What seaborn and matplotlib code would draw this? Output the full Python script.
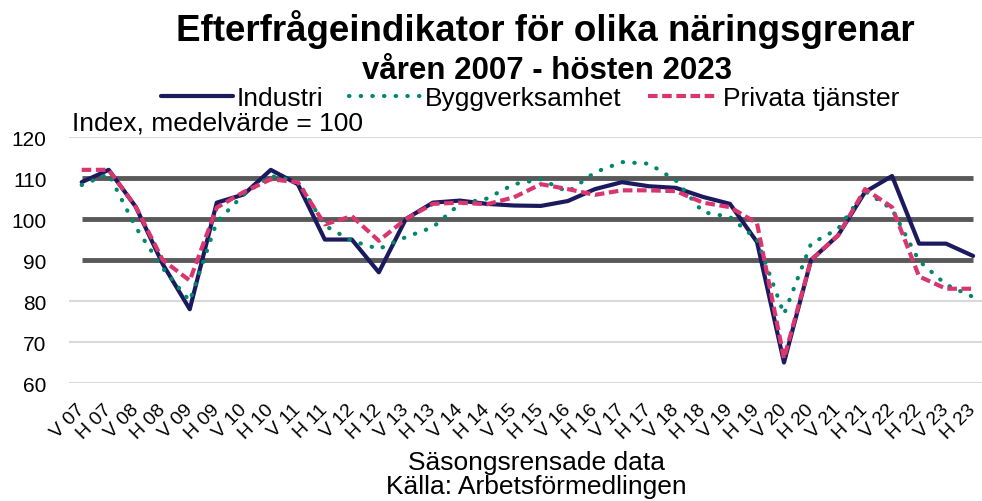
import matplotlib
matplotlib.use("Agg")
import matplotlib.pyplot as plt
import seaborn as sns
import pandas as pd

# Halvår: V = vår, H = höst
periods = [f"{s} {y:02d}" for y in range(7, 24) for s in ("V", "H")]

industri = [109, 112, 103, 89, 78, 104, 106, 112, 108.5, 95, 95, 87,
            100, 104, 104.5, 103.7, 103.3, 103.2, 104.4, 107.3, 109, 108,
            107.6, 105.4, 103.7, 94.4, 65, 90, 96, 106.6, 110.5, 94, 94, 91]
bygg = [108.3, 111, 98, 88, 80, 99.3, 106, 110.5, 109.3, 98.4, 94.7, 92.7,
        95.6, 98, 103.7, 105, 108.5, 109.7, 106.6, 111.4, 113.9, 113.5,
        109.4, 101.7, 100.5, 95, 76.8, 94, 97.6, 106.8, 102.4, 89.8, 84, 81]
privata = [112, 112, 103, 90, 85, 102.8, 106.6, 109.7, 109, 98.7, 100.7, 94.7,
           100, 103.7, 104, 103.6, 105.3, 108.5, 107.3, 105.9, 107, 107,
           106.8, 104, 102.9, 99, 66, 90, 96, 107.3, 102.9, 86, 83, 83]

series_names = ["Industri", "Byggverksamhet", "Privata tjänster"]
colors = ["#1c1a5e", "#00876c", "#d9366f"]

df = pd.DataFrame({"x": range(len(periods)),
                   "Industri": industri,
                   "Byggverksamhet": bygg,
                   "Privata tjänster": privata})
long_df = df.melt(id_vars="x", var_name="serie", value_name="index")

sns.set_theme(style="white")
plt.rcParams["font.family"] = ["Liberation Sans", "DejaVu Sans"]
plt.rcParams["text.color"] = "black"
plt.rcParams["xtick.color"] = "black"
plt.rcParams["ytick.color"] = "black"

fig = plt.figure(figsize=(9.82, 5.02), dpi=100)
ax = fig.add_axes([0.070, 0.235, 0.930, 0.490])

# tunna stödlinjer
for y in [60, 70, 80, 120]:
    ax.axhline(y, color="#d9d9d9", lw=1.5, zorder=0)
# tjocka referenslinjer 90/100/110
ax.hlines([90, 100, 110], 0, len(periods) - 1, color="#595959", lw=3.5, zorder=1)

sns.lineplot(data=long_df, x="x", y="index", hue="serie", style="serie",
             hue_order=series_names, style_order=series_names,
             palette=colors,
             dashes={"Industri": "", "Byggverksamhet": (0.1, 2.7),
                     "Privata tjänster": (2.3, 1.1)},
             lw=3, ax=ax, zorder=3)

ax.set_xlim(-0.48, 33.33)
ax.set_ylim(60, 120)
ax.set_yticks(range(60, 121, 10))
ax.tick_params(axis="y", labelsize=15, length=0, pad=16)
ax.set_xticks(range(len(periods)))
ax.set_xticklabels(periods, rotation=45, ha="right", va="center",
                   rotation_mode="anchor", fontsize=14)
ax.tick_params(axis="x", length=0, pad=17)
ax.set_xlabel("")
ax.set_ylabel("")
sns.despine(ax=ax, left=True, bottom=True)

handles, labels = ax.get_legend_handles_labels()
leg = ax.legend(handles, labels, loc="center", bbox_to_anchor=(0.54, 0.803),
                bbox_transform=fig.transFigure, ncol=3, frameon=False,
                fontsize=19, handlelength=2.7, handletextpad=0.15,
                columnspacing=1.0, borderpad=0, borderaxespad=0)

# rundade prickar, raka streck
for line in ax.get_lines() + leg.get_lines():
    if line.get_color() == colors[1]:
        line.set_dash_capstyle("round")
    else:
        line.set_dash_capstyle("butt")
    line.set_solid_capstyle("round")

fig.text(0.555, 0.918, "Efterfrågeindikator för olika näringsgrenar",
         ha="center", va="baseline", fontsize=26.5, fontweight="bold")
fig.text(0.557, 0.843, "våren 2007 - hösten 2023",
         ha="center", va="baseline", fontsize=22.5, fontweight="bold")
fig.text(0.073, 0.741, "Index, medelvärde = 100", ha="left", va="baseline",
         fontsize=19)
fig.text(0.546, 0.064, "Säsongsrensade data", ha="center", va="baseline",
         fontsize=19)
fig.text(0.546, 0.016, "Källa: Arbetsförmedlingen", ha="center", va="baseline",
         fontsize=19)

fig.savefig("out.png", dpi=100)
